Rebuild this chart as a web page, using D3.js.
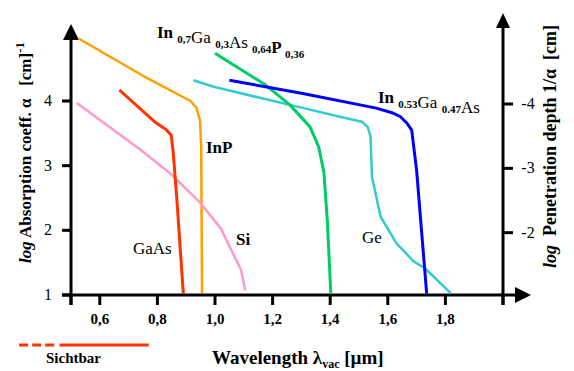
<!DOCTYPE html>
<html>
<head>
<meta charset="utf-8">
<script src="https://cdn.jsdelivr.net/npm/d3@7"></script>
<style>
  body { margin: 0; background: #fff; }
  text { white-space: pre; }
</style>
</head>
<body>
<div id="chart"></div>
<script>
// curves: [wavelength in µm, log absorption coefficient]
const inP = [[0.525, 4.97], [0.75, 4.39], [0.915, 4.0], [0.935, 3.9], [0.948, 3.7], [0.952, 3.3], [0.955, 1.03]];
const gaAs = [[0.668, 4.17], [0.79, 3.68], [0.83, 3.56], [0.848, 3.47], [0.855, 3.2], [0.868, 2.45], [0.89, 1.02]];
const si = [[0.52, 3.97], [0.74, 3.25], [0.845, 2.88], [0.95, 2.42], [1.02, 2.03], [1.09, 1.39], [1.105, 1.07]];
const inGaAsP = [[1.0, 4.74], [1.175, 4.25], [1.26, 3.94], [1.33, 3.6], [1.36, 3.29], [1.378, 2.9], [1.39, 2.15], [1.402, 1.03]];
const ge = [[0.925, 4.32], [0.995, 4.22], [1.26, 3.94], [1.43, 3.76], [1.51, 3.68], [1.53, 3.6], [1.54, 3.45],
    [1.545, 2.83], [1.575, 2.21], [1.63, 1.8], [1.69, 1.52], [1.73, 1.41], [1.82, 1.02]];
const inGaAs = [[1.05, 4.32], [1.3, 4.12], [1.56, 3.89], [1.62, 3.81], [1.643, 3.76], [1.666, 3.66], [1.683, 3.55],
    [1.70, 2.93], [1.735, 1.02]];

const xTicks = [0.6, 0.8, 1.0, 1.2, 1.4, 1.6, 1.8];
const xTickMarks = [0.5, 0.6, 0.8, 1.0, 1.2, 1.4, 1.6, 1.8, 2.0];
const leftTicks = [1, 2, 3, 4];
const rightTicks = [-2, -3, -4];
const visibleDashed = [0.32, 0.455];
const visibleSolid = [0.46, 0.77];

const serif = 'Liberation Serif';
const width = 574, height = 371;
const svg = d3.select('#chart').append('svg')
    .attr('width', width)
    .attr('height', height);

const x = d3.scaleLinear().domain([0.5, 2.0]).range([71, 503]);
const y = d3.scaleLinear().domain([1, 4]).range([295, 101]);
const yRight = d3.scaleLinear().domain([-1, -4]).range([297, 104]);

const line = d3.line()
    .x(d => x(d[0]))
    .y(d => y(d[1]));

// axes lines
const axisColor = '#000';
svg.append('line')
    .attr('x1', x(0.5)).attr('y1', 305).attr('x2', x(0.5)).attr('y2', 38)
    .attr('stroke', axisColor).attr('stroke-width', 3);
svg.append('path')
    .attr('d', d3.line()([[x(0.5) - 8, 40], [x(0.5), 24], [x(0.5) + 8, 40]]))
    .attr('fill', axisColor);

svg.append('line')
    .attr('x1', x(2.0)).attr('y1', 305).attr('x2', x(2.0)).attr('y2', 26)
    .attr('stroke', axisColor).attr('stroke-width', 3);
svg.append('path')
    .attr('d', d3.line()([[x(2.0) - 7, 28], [x(2.0), 13], [x(2.0) + 7, 28]]))
    .attr('fill', axisColor);

svg.append('line')
    .attr('x1', 62).attr('y1', y(1)).attr('x2', 517).attr('y2', y(1))
    .attr('stroke', axisColor).attr('stroke-width', 3);
svg.append('path')
    .attr('d', d3.line()([[515, y(1) - 8], [531, y(1)], [515, y(1) + 8]]))
    .attr('fill', axisColor);

// x ticks
svg.selectAll('.xtick')
    .data(xTickMarks)
    .enter().append('line')
    .attr('x1', d => x(d)).attr('x2', d => x(d))
    .attr('y1', y(1)).attr('y2', 305)
    .attr('stroke', axisColor).attr('stroke-width', 3);
svg.selectAll('.xlabel')
    .data(xTicks)
    .enter().append('text')
    .attr('x', d => x(d))
    .attr('y', 324)
    .attr('text-anchor', 'middle')
    .attr('font-family', serif)
    .attr('font-size', 15)
    .attr('font-weight', 'bold')
    .text(d => d3.format('.1f')(d).replace('.', ','));

// left ticks
svg.selectAll('.ltick')
    .data(leftTicks)
    .enter().append('line')
    .attr('x1', 62).attr('x2', x(0.5))
    .attr('y1', d => y(d)).attr('y2', d => y(d))
    .attr('stroke', axisColor).attr('stroke-width', 3);
svg.selectAll('.llabel')
    .data(leftTicks)
    .enter().append('text')
    .attr('x', 48)
    .attr('y', d => y(d) + 5)
    .attr('text-anchor', 'middle')
    .attr('font-family', serif)
    .attr('font-size', 16)
    .text(d => d);

// right ticks
svg.selectAll('.rtick')
    .data(rightTicks)
    .enter().append('line')
    .attr('x1', x(2.0)).attr('x2', 513)
    .attr('y1', d => yRight(d)).attr('y2', d => yRight(d))
    .attr('stroke', axisColor).attr('stroke-width', 3);
svg.selectAll('.rlabel')
    .data(rightTicks)
    .enter().append('text')
    .attr('x', 528)
    .attr('y', d => yRight(d) + 5)
    .attr('text-anchor', 'middle')
    .attr('font-family', serif)
    .attr('font-size', 16)
    .text(d => '-' + Math.abs(d));

// curves
const curves = [
    { data: inP, color: '#ffa000', w: 2.5 },
    { data: si, color: '#ff99cc', w: 2.5 },
    { data: gaAs, color: '#ff3300', w: 3 },
    { data: ge, color: '#33cccc', w: 2.5 },
    { data: inGaAsP, color: '#00cc66', w: 3 },
    { data: inGaAs, color: '#0000ff', w: 3 }
];
curves.forEach(c => {
    svg.append('path')
        .attr('d', line(c.data))
        .attr('fill', 'none')
        .attr('stroke', c.color)
        .attr('stroke-width', c.w)
        .attr('stroke-linejoin', 'round');
});

// curve labels
function label(px, py, parts) {
    const t = svg.append('text').attr('x', px).attr('y', py)
        .attr('font-family', serif).attr('font-size', 17);
    parts.forEach(p => {
        if (p.sub) {
            t.append('tspan').attr('dy', 5).attr('font-size', 11).attr('font-weight', 'bold').text(p.sub);
            t.append('tspan').attr('dy', -5).text('');
        } else {
            t.append('tspan').attr('font-weight', p.bold ? 'bold' : 'normal').text(p.t);
        }
    });
    return t;
}
label(157, 38, [{ t: 'In ', bold: true }, { sub: '0,7' }, { t: 'Ga ' }, { sub: '0,3' }, { t: 'As ' }, { sub: '0,64' },
    { t: 'P ', bold: true }, { sub: '0,36' }]);
label(378, 103, [{ t: 'In ', bold: true }, { sub: '0.53' }, { t: 'Ga ' }, { sub: '0.47' }, { t: 'As' }]);
label(206, 153, [{ t: 'InP', bold: true }]);
label(133, 254, [{ t: 'GaAs' }]);
label(236, 245, [{ t: 'Si', bold: true }]);
label(362, 243, [{ t: 'Ge' }]);

// visible range
svg.append('line')
    .attr('x1', x(visibleDashed[0])).attr('x2', x(visibleDashed[1]))
    .attr('y1', 345).attr('y2', 345)
    .attr('stroke', '#ff3300').attr('stroke-width', 3)
    .attr('stroke-dasharray', '9,4');
svg.append('line')
    .attr('x1', x(visibleSolid[0])).attr('x2', x(visibleSolid[1]))
    .attr('y1', 345).attr('y2', 345)
    .attr('stroke', '#ff3300').attr('stroke-width', 3);
svg.append('text')
    .attr('x', 46).attr('y', 363)
    .attr('font-family', serif)
    .attr('font-size', 15).attr('font-weight', 'bold')
    .text('Sichtbar');

// x title
const xt = svg.append('text')
    .attr('x', 212).attr('y', 364)
    .attr('font-family', serif)
    .attr('font-size', 19).attr('font-weight', 'bold');
xt.append('tspan').text('Wavelength λ');
xt.append('tspan').attr('dy', 4).attr('font-size', 12).text('vac');
xt.append('tspan').attr('dy', -4).text(' [µm]');

// left title
const lt = svg.append('text')
    .attr('transform', 'translate(31,263) rotate(-90)')
    .attr('font-family', serif)
    .attr('font-size', 17).attr('font-weight', 'bold');
lt.append('tspan').attr('font-style', 'italic').text('log');
lt.append('tspan').text(' Absorption coeff. α   [cm]');
lt.append('tspan').attr('dy', -7).attr('font-size', 13).text('-1');

// right title
const rt = svg.append('text')
    .attr('transform', 'translate(556,268) rotate(-90)')
    .attr('font-family', serif)
    .attr('font-size', 18).attr('font-weight', 'bold');
rt.append('tspan').attr('font-style', 'italic').text('log');
rt.append('tspan').text('  Penetration depth 1/α  [cm]');
</script>
</body>
</html>
